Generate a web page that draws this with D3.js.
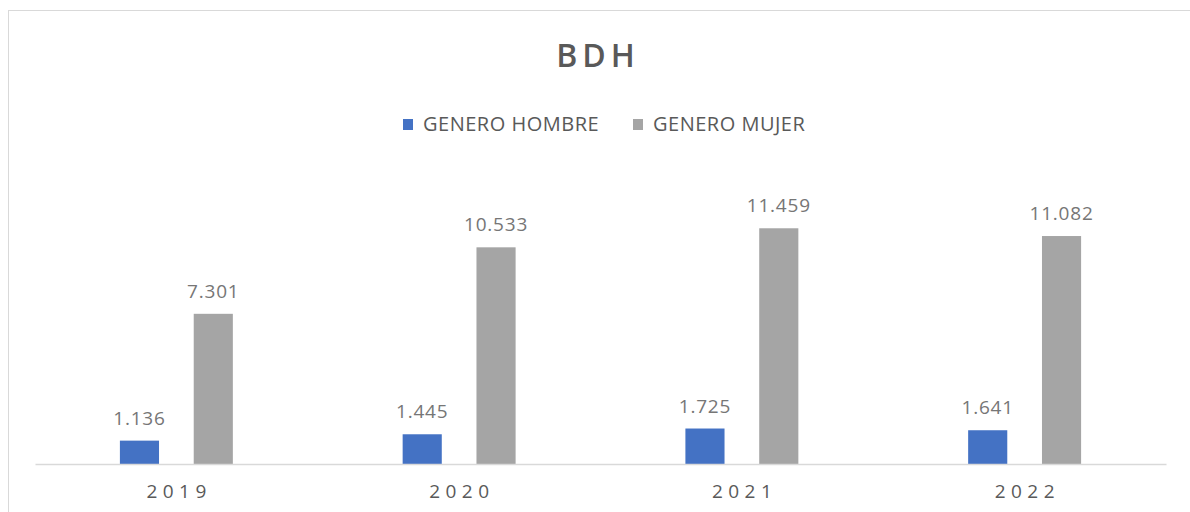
<!DOCTYPE html>
<html>
<head>
<meta charset="utf-8">
<script src="https://d3js.org/d3.v7.min.js"></script>
<style>
  body { margin: 0; background: #fff; }
  text { font-family: "Open Sans", sans-serif; }
</style>
</head>
<body>
<div id="chart"></div>
<script>
// data
years = ["2019", "2020", "2021", "2022"]
series = ["GENERO HOMBRE", "GENERO MUJER"]
hombre = [1.136, 1.445, 1.725, 1.641]
mujer = [7.301, 10.533, 11.459, 11.082]
colors = ["#4472C4", "#A5A5A5"]

width = 1190
height = 512
format = d3.format(".3f")

rows = years.map((y, i) => ({year: y, values: [hombre[i], mujer[i]]}))

svg = d3.select('#chart')
  .append('svg')
  .attr('width', width)
  .attr('height', height)

// chart frame
svg.append('rect')
  .attr('x', 8.5).attr('y', 10.5)
  .attr('width', 1200).attr('height', 520)
  .attr('fill', '#fff')
  .attr('stroke', '#d9d9d9')

// title
svg.append('text')
  .attr('x', 598).attr('y', 67)
  .attr('text-anchor', 'middle')
  .attr('font-size', 32)
  .attr('font-weight', 600)
  .attr('letter-spacing', 5)
  .attr('fill', '#595959')
  .text('BDH')

// legend
legendX = [403, 633]
legend = svg.selectAll('.legend')
  .data(series)
  .enter().append('g')
  .attr('class', 'legend')
  .attr('transform', (d, i) => 'translate(' + legendX[i] + ',119)')
legend.append('rect')
  .attr('width', 10).attr('height', 11)
  .attr('fill', (d, i) => colors[i])
legend.append('text')
  .attr('x', 20).attr('y', 12)
  .attr('font-size', 20)
  .attr('letter-spacing', 0.5)
  .attr('fill', '#595959')
  .text(d => d)

// scales
x0 = d3.scaleBand()
  .domain(years)
  .range([35, 1166])

x1 = d3.scaleBand()
  .domain(series)
  .range([0, x0.bandwidth()])
  .paddingInner(0.47)
  .paddingOuter(1.15)

y = d3.scaleLinear()
  .domain([0, 14])
  .range([464, 176])

// bars
groups = svg.selectAll('.year')
  .data(rows)
  .enter().append('g')
  .attr('class', 'year')
  .attr('transform', d => 'translate(' + x0(d.year) + ',0)')

groups.selectAll('rect')
  .data(d => d.values.map((v, i) => ({key: series[i], value: v, i: i})))
  .enter().append('rect')
  .attr('x', d => x1(d.key))
  .attr('y', d => y(d.value))
  .attr('width', x1.bandwidth())
  .attr('height', d => y(0) - y(d.value))
  .attr('fill', d => colors[d.i])

groups.selectAll('.label')
  .data(d => d.values.map((v, i) => ({key: series[i], value: v})))
  .enter().append('text')
  .attr('class', 'label')
  .attr('x', d => x1(d.key) + x1.bandwidth() / 2)
  .attr('y', d => y(d.value) - 16)
  .attr('text-anchor', 'middle')
  .attr('font-size', 19)
  .attr('letter-spacing', 0.8)
  .attr('fill', '#767676')
  .text(d => format(d.value))

// x axis
xAxis = svg.append('g')
  .attr('transform', 'translate(0,' + y(0) + ')')
  .call(d3.axisBottom(x0).tickSize(0).tickPadding(0))
xAxis.select('.domain').attr('stroke', '#d9d9d9').attr('stroke-width', 1.5)
xAxis.selectAll('text')
  .attr('dy', 34)
  .attr('font-size', 19)
  .attr('font-family', '"Open Sans", sans-serif')
  .attr('letter-spacing', 5.5)
  .attr('dx', 2.75)
  .attr('fill', '#595959')
</script>
</body>
</html>
